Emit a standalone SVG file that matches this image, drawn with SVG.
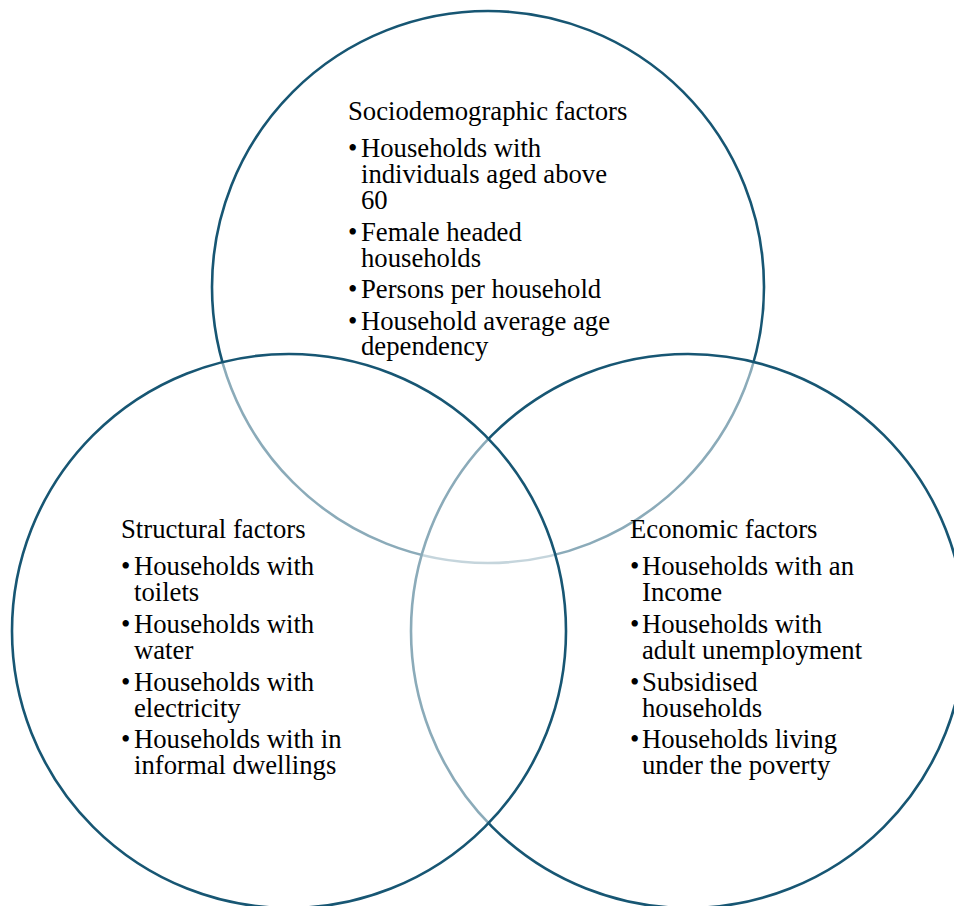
<svg xmlns="http://www.w3.org/2000/svg" width="954" height="906" viewBox="0 0 954 906">
<style>
.c{fill:#ffffff;fill-opacity:0.5;stroke:#175673;stroke-width:2.6}
text{font-family:"Liberation Serif","Times New Roman",serif;font-size:26.7px;fill:#000}
</style>
<rect width="954" height="906" fill="#fff"/>
<g id="socio">
<circle class="c" cx="488" cy="287" r="276"/>
</g>
<g id="economic">
<circle class="c" cx="688" cy="631" r="277"/>
</g>
<g id="structural">
<circle class="c" cx="289" cy="631" r="277"/>
</g>
<g id="socio-text">
<text x="348" y="120">Sociodemographic factors</text>
<text x="348" y="157">•<tspan x="361">Households with</tspan><tspan x="361" dy="26">individuals aged above</tspan><tspan x="361" dy="26">60</tspan></text>
<text x="348" y="241">•<tspan x="361">Female headed</tspan><tspan x="361" dy="25.5">households</tspan></text>
<text x="348" y="298">•<tspan x="361">Persons per household</tspan></text>
<text x="348" y="330">•<tspan x="361">Household average age</tspan><tspan x="361" dy="25">dependency</tspan></text>
</g>
<g id="structural-text">
<text x="121" y="538">Structural factors</text>
<text x="121" y="575">•<tspan x="134">Households with</tspan><tspan x="134" dy="26">toilets</tspan></text>
<text x="121" y="633">•<tspan x="134">Households with</tspan><tspan x="134" dy="26">water</tspan></text>
<text x="121" y="691">•<tspan x="134">Households with</tspan><tspan x="134" dy="25.5">electricity</tspan></text>
<text x="121" y="748">•<tspan x="134">Households with in</tspan><tspan x="134" dy="26">informal dwellings</tspan></text>
</g>
<g id="economic-text">
<text x="630" y="538">Economic factors</text>
<text x="630" y="575">•<tspan x="642">Households with an</tspan><tspan x="642" dy="26">Income</tspan></text>
<text x="630" y="633">•<tspan x="642">Households with</tspan><tspan x="642" dy="26">adult unemployment</tspan></text>
<text x="630" y="691">•<tspan x="642">Subsidised</tspan><tspan x="642" dy="25.5">households</tspan></text>
<text x="630" y="748">•<tspan x="642">Households living</tspan><tspan x="642" dy="26">under the poverty</tspan></text>
</g>
<g id="connectors"></g>
</svg>
